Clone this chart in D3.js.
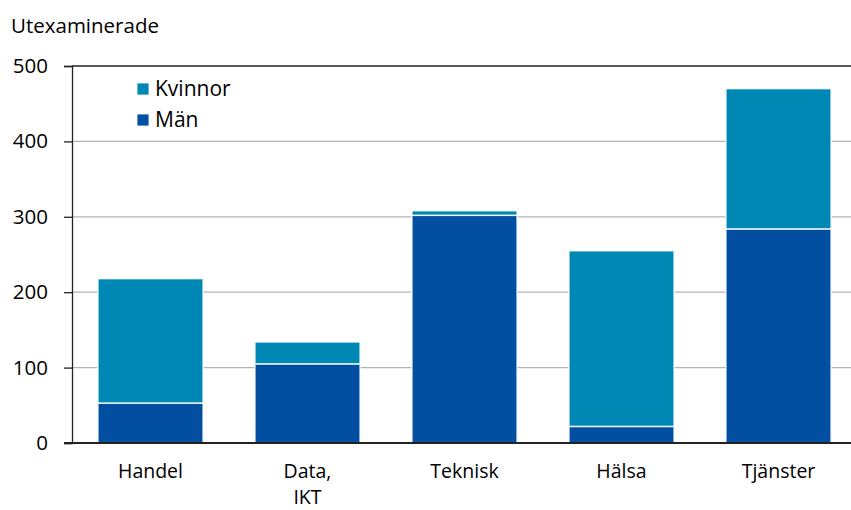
<!DOCTYPE html>
<html>
<head>
<meta charset="utf-8">
<script src="https://cdn.jsdelivr.net/npm/d3@7"></script>
<style>
  body { margin: 0; background: #fff; }
  text { font-family: "Open Sans", "Noto Sans", sans-serif; fill: #000; }
</style>
</head>
<body>
<div id="chart"></div>
<script>
var categories = ["Handel", "Data,\nIKT", "Teknisk", "Hälsa", "Tjänster"];
var man = [53, 105, 302, 22, 284];
var kvinnor = [165, 29, 6, 233, 186];
var yTicks = [0, 100, 200, 300, 400, 500];

var colors = { man: "#024fa2", kvinnor: "#0088b5" };

var width = 851, height = 510;
var margin = { top: 66, right: -6, bottom: 67, left: 72 };

var svg = d3.select("#chart").append("svg")
    .attr("width", width)
    .attr("height", height);

var x = d3.scaleBand()
    .domain(categories)
    .range([margin.left, width - margin.right])
    .paddingInner(0.33)
    .paddingOuter(0.165);

var y = d3.scaleLinear()
    .domain([0, 500])
    .range([height - margin.bottom, margin.top]);

// gridlines
svg.append("g")
    .selectAll("line")
    .data(yTicks.filter(d => d > 0))
    .enter().append("line")
    .attr("x1", margin.left)
    .attr("x2", width)
    .attr("y1", d => y(d))
    .attr("y2", d => y(d))
    .attr("stroke", d => d === 500 ? "#222" : "#b4b4b4")
    .attr("stroke-width", d => d === 500 ? 1.5 : 1.3);

// y axis
var yAxis = svg.append("g")
    .attr("transform", "translate(" + margin.left + ",0)")
    .call(d3.axisLeft(y).tickValues(yTicks).tickSize(8).tickPadding(16));
yAxis.select(".domain").attr("stroke", "#222").attr("stroke-width", 1.3);
yAxis.selectAll(".tick line").attr("stroke", "#222").attr("stroke-width", 1.3);
yAxis.selectAll(".tick text")
    .style("font-size", "20.5px")
    .style("font-family", "'Open Sans', 'Noto Sans', sans-serif")
    .attr("fill", "#000");

// stacked data
var rows = categories.map((c, i) => ({ cat: c, man: man[i], kvinnor: kvinnor[i] }));
var stack = d3.stack().keys(["man", "kvinnor"]);
var series = stack(rows);

svg.append("g")
    .selectAll("g")
    .data(series)
    .enter().append("g")
    .attr("fill", d => colors[d.key])
    .selectAll("rect")
    .data(d => d)
    .enter().append("rect")
    .attr("x", d => x(d.data.cat))
    .attr("width", x.bandwidth())
    .attr("y", d => y(d[1]))
    .attr("height", d => y(d[0]) - y(d[1]))
    .attr("stroke", "#fff")
    .attr("stroke-width", 1.5)
    .attr("stroke-opacity", 0.85);

// x axis line
svg.append("line")
    .attr("x1", margin.left - 8)
    .attr("x2", width)
    .attr("y1", y(0))
    .attr("y2", y(0))
    .attr("stroke", "#222")
    .attr("stroke-width", 2);

// x labels
var xl = svg.append("g")
    .selectAll("text")
    .data(categories)
    .enter().append("text")
    .attr("text-anchor", "middle")
    .attr("x", d => x(d) + x.bandwidth() / 2)
    .attr("y", 478)
    .style("font-size", "19.5px");
xl.selectAll("tspan")
    .data(d => d.split("\n"))
    .enter().append("tspan")
    .attr("x", function() { return d3.select(this.parentNode).attr("x"); })
    .attr("dy", (d, i) => i === 0 ? 0 : 26)
    .text(d => d);

// y title
svg.append("text")
    .attr("x", 11)
    .attr("y", 33)
    .style("font-size", "20.5px")
    .text("Utexaminerade");

// legend
var legend = [{ key: "kvinnor", label: "Kvinnor" }, { key: "man", label: "Män" }];
var lg = svg.append("g")
    .selectAll("g")
    .data(legend)
    .enter().append("g")
    .attr("transform", (d, i) => "translate(137," + (83 + i * 31) + ")");
lg.append("rect")
    .attr("width", 12)
    .attr("height", 12)
    .attr("fill", d => colors[d.key])
    .attr("stroke", "#fff")
    .attr("stroke-width", 0.8);
lg.append("text")
    .attr("x", 18)
    .attr("y", 13)
    .style("font-size", "21px")
    .text(d => d.label);
</script>
</body>
</html>
